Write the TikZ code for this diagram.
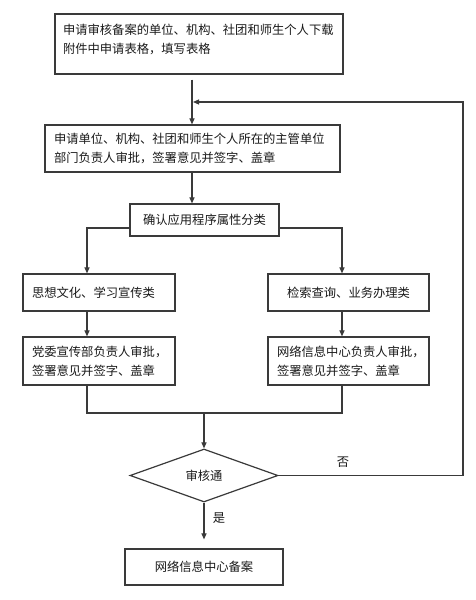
\documentclass[tikz,border=0pt]{standalone}
\usepackage{fontspec}
\setmainfont{Noto Sans CJK SC}
\usetikzlibrary{shapes.geometric,arrows.meta,calc}
\definecolor{linec}{HTML}{3A3A3A}
\definecolor{txt}{HTML}{1A1A1A}
\begin{document}
\begin{tikzpicture}[x=1pt,y=-1pt,
  box/.style={draw=linec, line width=1.2pt, rectangle, inner sep=0pt,
    font=\fontsize{12.3}{19}\selectfont, text=txt},
  conn/.style={draw=linec, line width=1.1pt},
  arr/.style={conn, -{Triangle[length=6pt,width=5pt]}},
  lbl/.style={font=\fontsize{12.3}{15}\selectfont, text=txt, inner sep=0pt},
]
\useasboundingbox[fill=white] (0,0) rectangle (475,600);

\node[box, minimum width=288pt, minimum height=60pt] (b1) at (199,44)
  {\parbox[c][40pt][t]{272pt}{申请审核备案的单位、机构、社团和师生个人下载\\附件中申请表格，填写表格}};
\node[box, minimum width=295pt, minimum height=47pt] (b2) at (192.5,148.5)
  {\parbox{277pt}{申请单位、机构、社团和师生个人所在的主管单位\\部门负责人审批，签署意见并签字、盖章}};
\node[box, minimum width=149pt, minimum height=32pt] (b3) at (204.5,220) {确认应用程序属性分类};
\node[box, minimum width=152pt, minimum height=37pt] (b4) at (99,292.5)
  {\parbox{134pt}{思想文化、学习宣传类}};
\node[box, minimum width=161pt, minimum height=37pt] (b5) at (348.5,292.5) {检索查询、业务办理类};
\node[box, minimum width=152pt, minimum height=48pt] (b6) at (99,361)
  {\parbox{134pt}{党委宣传部负责人审批，\\签署意见并签字、盖章}};
\node[box, minimum width=161pt, minimum height=48pt] (b7) at (348.5,361)
  {\parbox{143pt}{网络信息中心负责人审批，\\签署意见并签字、盖章}};
\node[box, shape=diamond, minimum width=148pt, minimum height=53pt] (d) at (204,475.5) {审核通};
\node[box, minimum width=158pt, minimum height=36pt] (b8) at (204,567) {网络信息中心备案};

\node[lbl] (yes) at (219,518) {是};
\node[lbl] (no) at (343,462) {否};

\coordinate (s1) at ($(b1.south)+(-7,5)$);
\coordinate (fbc) at (463,102);
\coordinate (cl) at (87,228);
\coordinate (cr) at (342,228);
\coordinate (m) at (204,413);

\draw[arr] (s1) -- (s1 |- b2.north);
\draw[arr] (d.east) -- (d.east -| fbc) -- (fbc) -- ($(s1 |- fbc)+(1,0)$);
\draw[arr] (b2.south -| s1) -- (b3.north -| s1);
\draw[arr] (b3.west |- cl) -- (cl) -- (cl |- b4.north);
\draw[arr] (b3.east |- cr) -- (cr) -- (cr |- b5.north);
\draw[arr] (cl |- b4.south) -- (cl |- b6.north);
\draw[arr] (cr |- b5.south) -- (cr |- b7.north);
\draw[conn] (cl |- b6.south) -- (cl |- m) -- (cr |- m) -- (cr |- b7.south);
\draw[arr] (m) -- (d.north);
\draw[arr] (d.south) -- ($(b8.north)+(0,-9)$);
\end{tikzpicture}
\end{document}
